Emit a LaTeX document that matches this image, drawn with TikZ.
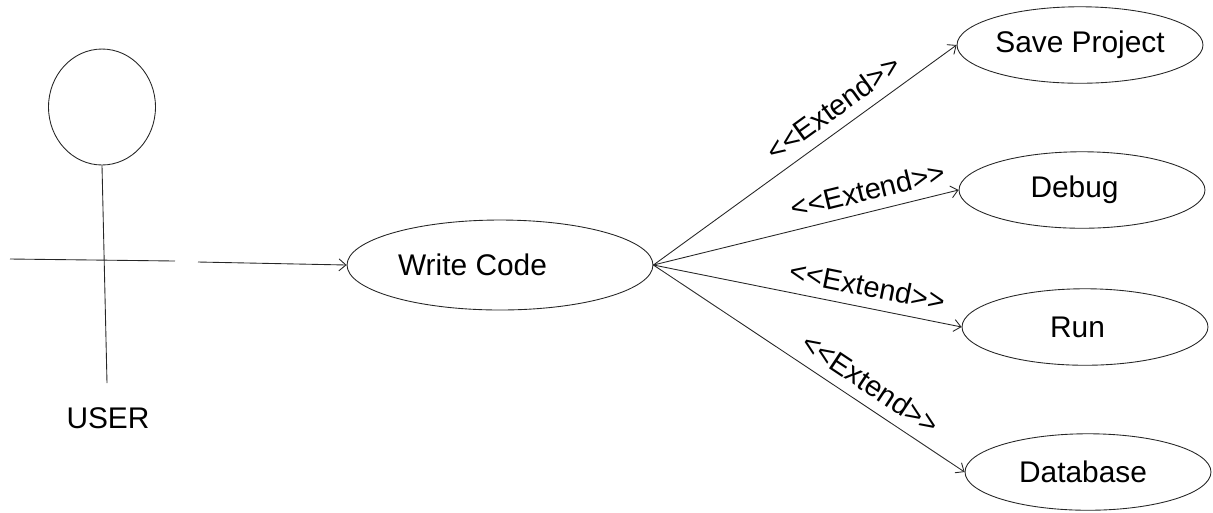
\documentclass[tikz,border=0pt]{standalone}
\usepackage{fontspec}
\setmainfont{Liberation Sans}[Ligatures=TeXOff]
\usetikzlibrary{shapes.geometric,arrows.meta}

\begin{document}
\begin{tikzpicture}[x=0.02cm,y=-0.02cm,
  e/.style={draw=black!85,line width=0.5pt},
  uc/.style={ellipse,e,minimum width=4.92cm,minimum height=1.53cm,inner sep=0pt,font=\fontsize{17}{20}\selectfont},
  a/.style={e,-{Straight Barb[length=1.4mm,width=2.4mm]}},
  ext/.style={sloped,above=5pt,inner sep=1pt,font=\fontsize{16.5}{20}\selectfont}]
  \useasboundingbox (0,0) rectangle (1213,512);
  % actor: head, body, arms
  \node[ellipse,e,minimum width=2.14cm,minimum height=2.32cm,inner sep=0pt] (head) at (102,107) {};
  \coordinate (foot) at (107,383);
  \coordinate (hl) at (10,259); \coordinate (hr) at (175,261);
  \draw[e] (head.south) -- (foot);
  \draw[e] (hl) -- (hr);
  \node[font=\fontsize{17}{20}\selectfont] (user) at (108,418) {USER};
  % use cases
  \node[uc,minimum width=6.12cm,minimum height=1.8cm] (wc) at (500,265) {Write Code\hspace*{1.1cm}};
  \node[uc] (sp) at (1080,45) {Save Project};
  \node[uc] (dbg) at (1082,190) {Debug\hspace*{0.3cm}};
  \node[uc] (run) at (1085,327) {Run\hspace*{0.3cm}};
  \node[uc] (db) at (1088,472) {Database\hspace*{0.2cm}};
  % association and extends
  \coordinate (from) at (198,262);
  \draw[a] (from) -- (wc.west);
  \draw[a] (wc.east) -- node[ext,pos=.635] (x1) {<<Extend>>} (sp.west);
  \draw[a] (wc.east) -- node[ext,pos=.72] (x2) {<<Extend>>} (dbg.west);
  \draw[a] (wc.east) -- node[ext,pos=.68] (x3) {<<Extend>>} (run.west);
  \draw[a] (wc.east) -- node[ext,pos=.66] (x4) {<<Extend>>} (db.west);
\end{tikzpicture}
\end{document}
